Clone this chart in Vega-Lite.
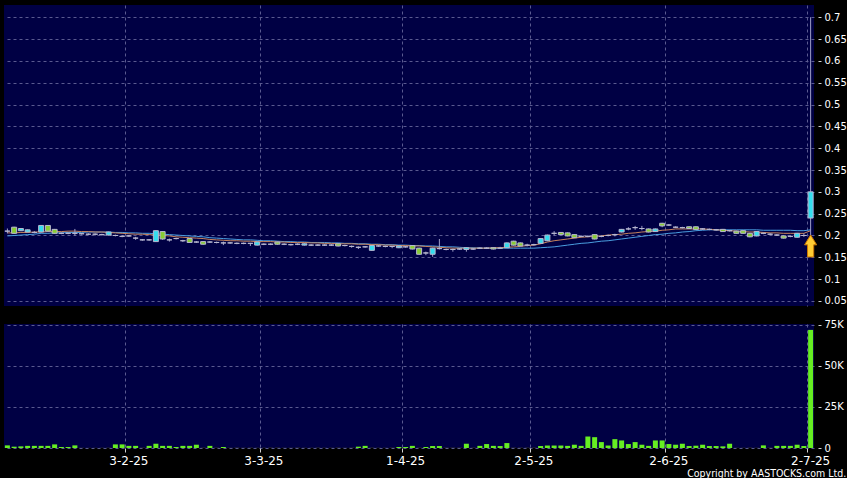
{
"$schema":"https://vega.github.io/schema/vega-lite/v6.json",
"background":"#000000",
"padding":{"left":4,"top":5,"right":0,"bottom":0},
"config":{
 "view":{"fill":"#000044","stroke":null},
 "axis":{"gridColor":"#5a5a90","gridDash":[3,3],"gridWidth":1,"labelColor":"#ffffff","tickColor":"#d0d0d0","domain":false,"labelFont":"DejaVu Sans","title":null}
},
"spacing":13,
"title":{"text":"Copyright by AASTOCKS.com Ltd.","orient":"bottom","anchor":"end","frame":"bounds","color":"#ffffff","font":"DejaVu Sans Condensed","fontSize":10.5,"fontWeight":"normal","offset":3},
"datasets":{
"arrow":[{"d":"2025-07-02","p":0.176}],
"px":[
{"d":"2025-01-03","o":0.21,"h":0.216,"l":0.205,"c":0.21,"v":1600,"m1":0.206,"m2":0.199},
{"d":"2025-01-06","o":0.219,"h":0.22,"l":0.204,"c":0.205,"v":800,"m1":0.206,"m2":0.2},
{"d":"2025-01-07","o":0.211,"h":0.217,"l":0.21,"c":0.216,"v":1000,"m1":0.207,"m2":0.201},
{"d":"2025-01-08","o":0.208,"h":0.214,"l":0.207,"c":0.213,"v":1300,"m1":0.207,"m2":0.202},
{"d":"2025-01-09","o":0.207,"h":0.21,"l":0.205,"c":0.207,"v":1300,"m1":0.208,"m2":0.203},
{"d":"2025-01-10","o":0.208,"h":0.224,"l":0.207,"c":0.223,"v":1300,"m1":0.208,"m2":0.205},
{"d":"2025-01-13","o":0.223,"h":0.224,"l":0.209,"c":0.21,"v":1300,"m1":0.209,"m2":0.205},
{"d":"2025-01-14","o":0.214,"h":0.215,"l":0.204,"c":0.205,"v":2200,"m1":0.209,"m2":0.206},
{"d":"2025-01-15","o":0.205,"h":0.207,"l":0.203,"c":0.205,"v":600,"m1":0.209,"m2":0.206},
{"d":"2025-01-16","o":0.205,"h":0.207,"l":0.203,"c":0.205,"v":600,"m1":0.21,"m2":0.207},
{"d":"2025-01-17","o":0.205,"h":0.215,"l":0.2,"c":0.205,"v":1600,"m1":0.21,"m2":0.207},
{"d":"2025-01-20","o":0.204,"h":0.206,"l":0.202,"c":0.204,"v":200,"m1":0.209,"m2":0.207},
{"d":"2025-01-21","o":0.203,"h":0.205,"l":0.201,"c":0.203,"v":150,"m1":0.209,"m2":0.208},
{"d":"2025-01-22","o":0.203,"h":0.205,"l":0.2,"c":0.203,"v":150,"m1":0.208,"m2":0.208},
{"d":"2025-01-23","o":0.202,"h":0.204,"l":0.2,"c":0.202,"v":200,"m1":0.208,"m2":0.208},
{"d":"2025-01-24","o":0.201,"h":0.209,"l":0.2,"c":0.208,"v":250,"m1":0.207,"m2":0.208},
{"d":"2025-01-27","o":0.2,"h":0.202,"l":0.198,"c":0.2,"v":2200,"m1":0.206,"m2":0.207},
{"d":"2025-01-28","o":0.198,"h":0.2,"l":0.196,"c":0.198,"v":2200,"m1":0.205,"m2":0.207},
{"d":"2025-02-03","o":0.199,"h":0.201,"l":0.197,"c":0.199,"v":1300,"m1":0.204,"m2":0.206},
{"d":"2025-02-04","o":0.194,"h":0.197,"l":0.19,"c":0.194,"v":1300,"m1":0.203,"m2":0.206},
{"d":"2025-02-05","o":0.19,"h":0.192,"l":0.188,"c":0.19,"v":300,"m1":0.203,"m2":0.205},
{"d":"2025-02-06","o":0.19,"h":0.192,"l":0.188,"c":0.19,"v":1300,"m1":0.202,"m2":0.205},
{"d":"2025-02-07","o":0.186,"h":0.212,"l":0.185,"c":0.211,"v":2600,"m1":0.201,"m2":0.204},
{"d":"2025-02-10","o":0.209,"h":0.21,"l":0.19,"c":0.192,"v":1300,"m1":0.2,"m2":0.203},
{"d":"2025-02-11","o":0.19,"h":0.193,"l":0.186,"c":0.19,"v":1300,"m1":0.199,"m2":0.202},
{"d":"2025-02-12","o":0.193,"h":0.195,"l":0.191,"c":0.193,"v":600,"m1":0.197,"m2":0.201},
{"d":"2025-02-13","o":0.188,"h":0.19,"l":0.185,"c":0.188,"v":1300,"m1":0.196,"m2":0.2},
{"d":"2025-02-14","o":0.193,"h":0.194,"l":0.183,"c":0.184,"v":1300,"m1":0.195,"m2":0.199},
{"d":"2025-02-17","o":0.185,"h":0.187,"l":0.183,"c":0.185,"v":2000,"m1":0.194,"m2":0.198},
{"d":"2025-02-18","o":0.186,"h":0.187,"l":0.179,"c":0.18,"v":300,"m1":0.193,"m2":0.197},
{"d":"2025-02-19","o":0.185,"h":0.187,"l":0.183,"c":0.185,"v":1300,"m1":0.191,"m2":0.195},
{"d":"2025-02-20","o":0.184,"h":0.186,"l":0.182,"c":0.184,"v":300,"m1":0.19,"m2":0.194},
{"d":"2025-02-21","o":0.183,"h":0.186,"l":0.178,"c":0.183,"v":600,"m1":0.189,"m2":0.193},
{"d":"2025-02-24","o":0.183,"h":0.185,"l":0.181,"c":0.183,"v":200,"m1":0.188,"m2":0.192},
{"d":"2025-02-25","o":0.182,"h":0.184,"l":0.18,"c":0.182,"v":300,"m1":0.188,"m2":0.191},
{"d":"2025-02-26","o":0.182,"h":0.184,"l":0.18,"c":0.182,"v":200,"m1":0.187,"m2":0.19},
{"d":"2025-02-27","o":0.182,"h":0.183,"l":0.176,"c":0.182,"v":300,"m1":0.187,"m2":0.19},
{"d":"2025-02-28","o":0.178,"h":0.186,"l":0.177,"c":0.185,"v":200,"m1":0.186,"m2":0.189},
{"d":"2025-03-03","o":0.18,"h":0.182,"l":0.178,"c":0.18,"v":200,"m1":0.186,"m2":0.188},
{"d":"2025-03-04","o":0.18,"h":0.182,"l":0.178,"c":0.18,"v":300,"m1":0.186,"m2":0.188},
{"d":"2025-03-05","o":0.185,"h":0.186,"l":0.179,"c":0.18,"v":300,"m1":0.185,"m2":0.187},
{"d":"2025-03-06","o":0.18,"h":0.182,"l":0.178,"c":0.18,"v":200,"m1":0.185,"m2":0.186},
{"d":"2025-03-07","o":0.179,"h":0.181,"l":0.177,"c":0.179,"v":200,"m1":0.184,"m2":0.186},
{"d":"2025-03-10","o":0.18,"h":0.182,"l":0.178,"c":0.18,"v":300,"m1":0.184,"m2":0.185},
{"d":"2025-03-11","o":0.178,"h":0.182,"l":0.177,"c":0.181,"v":200,"m1":0.184,"m2":0.185},
{"d":"2025-03-12","o":0.178,"h":0.18,"l":0.176,"c":0.178,"v":200,"m1":0.183,"m2":0.184},
{"d":"2025-03-13","o":0.178,"h":0.18,"l":0.176,"c":0.178,"v":300,"m1":0.183,"m2":0.184},
{"d":"2025-03-14","o":0.178,"h":0.18,"l":0.176,"c":0.178,"v":200,"m1":0.182,"m2":0.184},
{"d":"2025-03-17","o":0.178,"h":0.18,"l":0.176,"c":0.178,"v":200,"m1":0.182,"m2":0.183},
{"d":"2025-03-18","o":0.181,"h":0.182,"l":0.175,"c":0.176,"v":300,"m1":0.181,"m2":0.183},
{"d":"2025-03-19","o":0.177,"h":0.179,"l":0.175,"c":0.177,"v":200,"m1":0.181,"m2":0.182},
{"d":"2025-03-20","o":0.175,"h":0.177,"l":0.172,"c":0.175,"v":300,"m1":0.181,"m2":0.182},
{"d":"2025-03-21","o":0.173,"h":0.175,"l":0.169,"c":0.173,"v":800,"m1":0.18,"m2":0.181},
{"d":"2025-03-24","o":0.174,"h":0.176,"l":0.172,"c":0.174,"v":1300,"m1":0.18,"m2":0.181},
{"d":"2025-03-25","o":0.166,"h":0.178,"l":0.165,"c":0.177,"v":300,"m1":0.179,"m2":0.18},
{"d":"2025-03-26","o":0.176,"h":0.178,"l":0.174,"c":0.176,"v":200,"m1":0.179,"m2":0.18},
{"d":"2025-03-27","o":0.175,"h":0.177,"l":0.173,"c":0.175,"v":200,"m1":0.178,"m2":0.179},
{"d":"2025-03-28","o":0.175,"h":0.176,"l":0.171,"c":0.175,"v":300,"m1":0.178,"m2":0.179},
{"d":"2025-03-31","o":0.172,"h":0.177,"l":0.171,"c":0.176,"v":600,"m1":0.177,"m2":0.178},
{"d":"2025-04-01","o":0.174,"h":0.176,"l":0.172,"c":0.174,"v":600,"m1":0.177,"m2":0.178},
{"d":"2025-04-02","o":0.177,"h":0.178,"l":0.168,"c":0.169,"v":1300,"m1":0.176,"m2":0.177},
{"d":"2025-04-03","o":0.171,"h":0.172,"l":0.156,"c":0.157,"v":300,"m1":0.176,"m2":0.177},
{"d":"2025-04-07","o":0.16,"h":0.163,"l":0.155,"c":0.16,"v":600,"m1":0.175,"m2":0.176},
{"d":"2025-04-08","o":0.157,"h":0.172,"l":0.151,"c":0.171,"v":1200,"m1":0.174,"m2":0.176},
{"d":"2025-04-09","o":0.17,"h":0.192,"l":0.168,"c":0.17,"v":1200,"m1":0.173,"m2":0.175},
{"d":"2025-04-10","o":0.168,"h":0.17,"l":0.166,"c":0.168,"v":300,"m1":0.172,"m2":0.174},
{"d":"2025-04-11","o":0.168,"h":0.17,"l":0.163,"c":0.168,"v":300,"m1":0.171,"m2":0.174},
{"d":"2025-04-14","o":0.169,"h":0.171,"l":0.167,"c":0.169,"v":300,"m1":0.171,"m2":0.173},
{"d":"2025-04-15","o":0.168,"h":0.173,"l":0.163,"c":0.172,"v":2600,"m1":0.171,"m2":0.172},
{"d":"2025-04-16","o":0.169,"h":0.171,"l":0.167,"c":0.169,"v":300,"m1":0.171,"m2":0.172},
{"d":"2025-04-17","o":0.171,"h":0.173,"l":0.169,"c":0.171,"v":1300,"m1":0.171,"m2":0.171},
{"d":"2025-04-22","o":0.171,"h":0.173,"l":0.169,"c":0.171,"v":2400,"m1":0.171,"m2":0.171},
{"d":"2025-04-23","o":0.172,"h":0.173,"l":0.168,"c":0.169,"v":1300,"m1":0.172,"m2":0.171},
{"d":"2025-04-24","o":0.171,"h":0.174,"l":0.169,"c":0.171,"v":1200,"m1":0.172,"m2":0.171},
{"d":"2025-04-25","o":0.172,"h":0.184,"l":0.171,"c":0.183,"v":3000,"m1":0.173,"m2":0.171},
{"d":"2025-04-28","o":0.187,"h":0.188,"l":0.177,"c":0.178,"v":300,"m1":0.174,"m2":0.171},
{"d":"2025-04-29","o":0.183,"h":0.184,"l":0.175,"c":0.176,"v":300,"m1":0.175,"m2":0.171},
{"d":"2025-04-30","o":0.178,"h":0.181,"l":0.175,"c":0.178,"v":300,"m1":0.177,"m2":0.171},
{"d":"2025-05-02","o":0.179,"h":0.181,"l":0.177,"c":0.179,"v":300,"m1":0.178,"m2":0.171},
{"d":"2025-05-06","o":0.182,"h":0.194,"l":0.181,"c":0.193,"v":1200,"m1":0.181,"m2":0.172},
{"d":"2025-05-07","o":0.188,"h":0.202,"l":0.187,"c":0.201,"v":1500,"m1":0.185,"m2":0.173},
{"d":"2025-05-08","o":0.205,"h":0.21,"l":0.2,"c":0.205,"v":1500,"m1":0.188,"m2":0.174},
{"d":"2025-05-09","o":0.207,"h":0.208,"l":0.201,"c":0.202,"v":1500,"m1":0.19,"m2":0.176},
{"d":"2025-05-12","o":0.206,"h":0.207,"l":0.198,"c":0.199,"v":1300,"m1":0.192,"m2":0.178},
{"d":"2025-05-13","o":0.202,"h":0.203,"l":0.194,"c":0.195,"v":2000,"m1":0.194,"m2":0.18},
{"d":"2025-05-14","o":0.198,"h":0.2,"l":0.196,"c":0.198,"v":1300,"m1":0.196,"m2":0.182},
{"d":"2025-05-15","o":0.198,"h":0.2,"l":0.196,"c":0.198,"v":7000,"m1":0.197,"m2":0.183},
{"d":"2025-05-16","o":0.202,"h":0.203,"l":0.191,"c":0.192,"v":6600,"m1":0.198,"m2":0.185},
{"d":"2025-05-19","o":0.198,"h":0.2,"l":0.196,"c":0.198,"v":3600,"m1":0.199,"m2":0.187},
{"d":"2025-05-20","o":0.2,"h":0.202,"l":0.198,"c":0.2,"v":1500,"m1":0.201,"m2":0.188},
{"d":"2025-05-21","o":0.202,"h":0.204,"l":0.198,"c":0.202,"v":5400,"m1":0.202,"m2":0.19},
{"d":"2025-05-22","o":0.208,"h":0.215,"l":0.207,"c":0.214,"v":4600,"m1":0.203,"m2":0.192},
{"d":"2025-05-23","o":0.215,"h":0.219,"l":0.212,"c":0.215,"v":2400,"m1":0.205,"m2":0.194},
{"d":"2025-05-26","o":0.218,"h":0.222,"l":0.213,"c":0.218,"v":3600,"m1":0.206,"m2":0.196},
{"d":"2025-05-27","o":0.216,"h":0.222,"l":0.212,"c":0.216,"v":2000,"m1":0.208,"m2":0.198},
{"d":"2025-05-28","o":0.215,"h":0.216,"l":0.207,"c":0.208,"v":1300,"m1":0.209,"m2":0.2},
{"d":"2025-05-29","o":0.209,"h":0.216,"l":0.208,"c":0.215,"v":4600,"m1":0.21,"m2":0.202},
{"d":"2025-05-30","o":0.228,"h":0.229,"l":0.219,"c":0.222,"v":4600,"m1":0.212,"m2":0.203},
{"d":"2025-06-02","o":0.224,"h":0.226,"l":0.222,"c":0.224,"v":2400,"m1":0.213,"m2":0.205},
{"d":"2025-06-03","o":0.219,"h":0.221,"l":0.217,"c":0.219,"v":2000,"m1":0.215,"m2":0.206},
{"d":"2025-06-04","o":0.218,"h":0.22,"l":0.216,"c":0.218,"v":2600,"m1":0.215,"m2":0.208},
{"d":"2025-06-05","o":0.22,"h":0.221,"l":0.215,"c":0.216,"v":1200,"m1":0.215,"m2":0.209},
{"d":"2025-06-06","o":0.22,"h":0.221,"l":0.213,"c":0.214,"v":1400,"m1":0.215,"m2":0.211},
{"d":"2025-06-09","o":0.215,"h":0.217,"l":0.213,"c":0.215,"v":2000,"m1":0.215,"m2":0.212},
{"d":"2025-06-10","o":0.214,"h":0.216,"l":0.212,"c":0.214,"v":1200,"m1":0.214,"m2":0.213},
{"d":"2025-06-11","o":0.213,"h":0.215,"l":0.211,"c":0.213,"v":1200,"m1":0.213,"m2":0.213},
{"d":"2025-06-12","o":0.214,"h":0.215,"l":0.208,"c":0.209,"v":1000,"m1":0.212,"m2":0.213},
{"d":"2025-06-13","o":0.211,"h":0.213,"l":0.209,"c":0.211,"v":2600,"m1":0.211,"m2":0.213},
{"d":"2025-06-16","o":0.21,"h":0.211,"l":0.204,"c":0.205,"v":200,"m1":0.21,"m2":0.213},
{"d":"2025-06-17","o":0.211,"h":0.212,"l":0.204,"c":0.205,"v":200,"m1":0.209,"m2":0.213},
{"d":"2025-06-18","o":0.205,"h":0.206,"l":0.196,"c":0.197,"v":300,"m1":0.208,"m2":0.213},
{"d":"2025-06-19","o":0.199,"h":0.21,"l":0.198,"c":0.209,"v":200,"m1":0.208,"m2":0.213},
{"d":"2025-06-20","o":0.205,"h":0.207,"l":0.203,"c":0.205,"v":1600,"m1":0.207,"m2":0.212},
{"d":"2025-06-23","o":0.203,"h":0.205,"l":0.201,"c":0.203,"v":300,"m1":0.206,"m2":0.212},
{"d":"2025-06-24","o":0.201,"h":0.203,"l":0.199,"c":0.201,"v":1300,"m1":0.206,"m2":0.212},
{"d":"2025-06-25","o":0.199,"h":0.2,"l":0.193,"c":0.194,"v":1300,"m1":0.205,"m2":0.212},
{"d":"2025-06-26","o":0.198,"h":0.2,"l":0.196,"c":0.198,"v":1300,"m1":0.205,"m2":0.212},
{"d":"2025-06-27","o":0.196,"h":0.206,"l":0.195,"c":0.205,"v":2000,"m1":0.205,"m2":0.211},
{"d":"2025-06-30","o":0.2,"h":0.205,"l":0.197,"c":0.2,"v":1200,"m1":0.205,"m2":0.211},
{"d":"2025-07-02","o":0.24,"h":0.7,"l":0.2,"c":0.3,"v":72000,"m1":0.211,"m2":0.213}
]},
"vconcat":[
{
 "width":810,"height":301,
 "data":{"name":"px"},
 "encoding":{"x":{"field":"d","type":"ordinal","scale":{"type":"band","paddingInner":0,"paddingOuter":0},
   "axis":{"values":["2025-02-03","2025-03-03","2025-04-01","2025-05-02","2025-06-02","2025-07-02"],"labels":false,"ticks":false,"grid":true,"bandPosition":0}}},
 "layer":[
  {"mark":{"type":"line","color":"#4a9ee0","strokeWidth":1},
   "encoding":{"y":{"field":"m2","type":"quantitative","scale":{"domain":[0.0385,0.728],"nice":false,"zero":false},
     "axis":{"orient":"right","values":[0.05,0.1,0.15,0.2,0.25,0.3,0.35,0.4,0.45,0.5,0.55,0.6,0.65,0.7],"tickCount":40,"labelExpr":"format(datum.value, '.2~f')","labelOverlap":false,"offset":4,"tickSize":3,"labelPadding":3,"labelFontSize":10,"grid":true}}}},
  {"mark":{"type":"line","color":"#c8845c","strokeWidth":1},
   "encoding":{"y":{"field":"m1","type":"quantitative"}}},
  {"mark":{"type":"rule","color":"#a0a0c8","strokeWidth":1},
   "encoding":{"y":{"field":"l","type":"quantitative"},"y2":{"field":"h"}}},
  {"mark":{"type":"bar","size":5,"stroke":"#b8b8d0","strokeWidth":1},
   "encoding":{"y":{"field":"o","type":"quantitative"},"y2":{"field":"c"},
     "color":{"condition":[{"test":"datum.c > datum.o","value":"#33ddee"},{"test":"datum.c < datum.o","value":"#88cc33"}],"value":"#a0a0c8"}}},
  {"data":{"name":"arrow"},
   "mark":{"type":"point","shape":"M0,-1L0.55,-0.1L0.28,-0.1L0.28,1L-0.28,1L-0.28,-0.1L-0.55,-0.1Z","filled":true,"fill":"#ffcc33","stroke":"#cc7700","strokeWidth":1,"size":484,"opacity":1},
   "encoding":{"y":{"field":"p","type":"quantitative"}}}
 ]
},
{
 "width":810,"height":124,
 "data":{"name":"px"},
 "mark":{"type":"bar","size":5},
 "encoding":{
  "x":{"field":"d","type":"ordinal","scale":{"type":"band","paddingInner":0,"paddingOuter":0},
   "axis":{"values":["2025-02-03","2025-03-03","2025-04-01","2025-05-02","2025-06-02","2025-07-02"],"labelExpr":"utcFormat(toDate(datum.value), '%-d-%-m-%y')","grid":true,"bandPosition":0,"tickSize":4,"labelFontSize":12,"labelPadding":3,"labelAngle":0}},
  "y":{"field":"v","type":"quantitative","scale":{"domain":[0,75600],"nice":false},
   "axis":{"orient":"right","values":[0,25000,50000,75000],"labelExpr":"datum.value == 0 ? '0' : (datum.value/1000) + 'K'","offset":4,"tickSize":3,"labelPadding":3,"labelFontSize":10,"grid":true}},
  "color":{"condition":{"test":"datum.v < 500","value":"#2e2e2e"},"value":"#66ee22"}
 }
}
]
}
